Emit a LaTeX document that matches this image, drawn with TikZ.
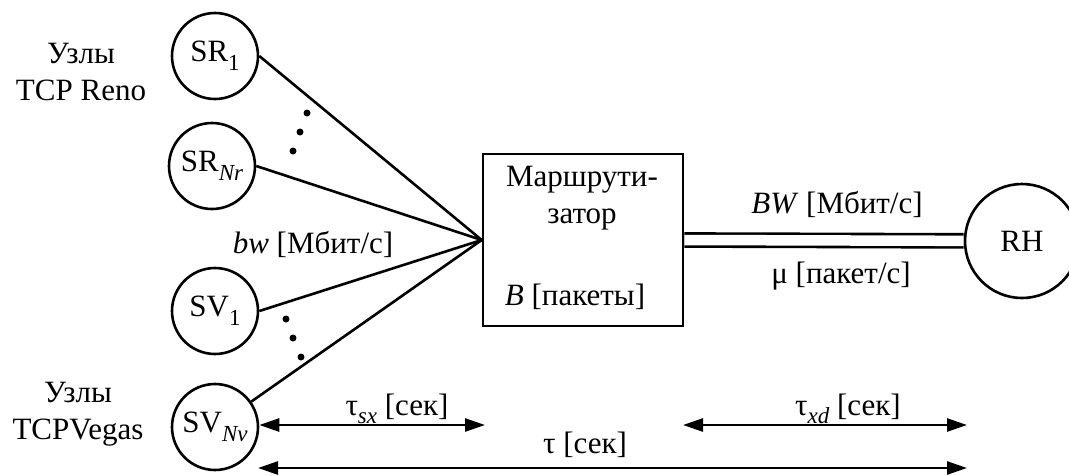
\documentclass[tikz,border=0pt]{standalone}
\usepackage{fontspec}
\setmainfont{Liberation Serif}
\usetikzlibrary{arrows.meta}
\newcommand{\lowsub}[1]{\raisebox{-0.28em}{\fontsize{23}{23}\selectfont #1}}
\tikzset{
  txt/.style={font=\fontsize{31}{37}\selectfont, inner sep=0pt},
  host/.style={draw, circle, line width=2.6pt, minimum size=86pt, inner sep=0pt, font=\fontsize{31}{36}\selectfont},
  router/.style={draw, rectangle, line width=2.6pt, minimum width=200pt, minimum height=172pt, inner sep=0pt},
  link/.style={line width=2.6pt},
  dimarrow/.style={line width=2.6pt, {Triangle[length=20pt,width=13pt]}-{Triangle[length=20pt,width=13pt]}},
  dotnode/.style={circle, fill, inner sep=0pt, minimum size=7pt}
}
\begin{document}
\begin{tikzpicture}[x=1pt,y=-1pt]
\useasboundingbox (0,0) rectangle (1069,475);
% hosts
\node[host] (SR1) at (215,56) {SR\lowsub{1}};
\node[host] (SRN) at (212,166) {SR\lowsub{\itshape Nr}};
\node[host] (SV1) at (215,311) {SV\lowsub{1}};
\node[host] (SVN) at (215,427) {SV\lowsub{\itshape Nv}};
\node[host, minimum size=114pt] (RH) at (1022,241) {RH};
% router
\node[router] (R) at (583,240) {};
\node[txt, align=center] (Rname) at (582,198) {Маршрути-\\затор};
\node[txt, anchor=base] (Rbuf) at (575,305) {\textit{B} [пакеты]};
% group labels
\node[txt, align=center] (reno) at (81,72) {Узлы\\TCP Reno};
\node[txt, align=center] (vegas) at (78,414) {Узлы\\TCPVegas};
% fan links
\draw[link] (SR1.east) -- (R.west);
\draw[link] (SRN.east) -- (R.west);
\draw[link] (SV1.east) -- (R.west);
\draw[link] (SVN.35) -- (R.west);
% dots
\node[dotnode] (d1) at (307,113) {};
\node[dotnode] (d2) at (300,132) {};
\node[dotnode] (d3) at (293,151) {};
\node[dotnode] (d4) at (286,319) {};
\node[dotnode] (d5) at (293,338) {};
\node[dotnode] (d6) at (301,357) {};
\node[txt, anchor=base] (bw) at (313,253) {\textit{bw} [Мбит/с]};
% bottleneck link
\draw[link, double, double distance=10.5pt] (R.east) -- (RH);
\node[txt, anchor=base] (BW) at (837,213) {\textit{BW} [Мбит/с]};
\node[txt, anchor=base] (mu) at (841,283) {μ [пакет/с]};
% delays
\coordinate (sxR) at (485,425);
\coordinate (xdL) at (683,425);
\coordinate (xdR) at (967,425);
\coordinate (tL) at (258,468);
\coordinate (tR) at (967,468);
\draw[dimarrow] (SVN.east |- sxR) -- (sxR);
\draw[dimarrow] (xdL) -- (xdR);
\draw[dimarrow] (tL) -- (tR);
\node[txt, anchor=base] (tsx) at (397,415) {τ\lowsub{\itshape sx} [сек]};
\node[txt, anchor=base] (txd) at (848,415) {τ\lowsub{\itshape xd} [сек]};
\node[txt, anchor=base] (tau) at (585,453) {τ [сек]};
\end{tikzpicture}
\end{document}
